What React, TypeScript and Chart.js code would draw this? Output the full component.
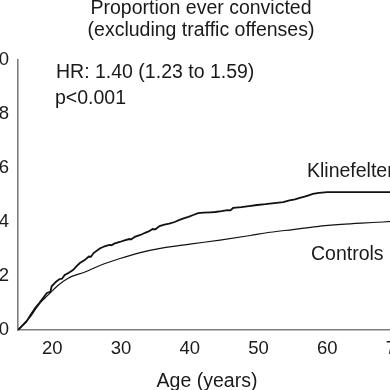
import React, { useEffect, useRef } from "react";
import { Chart, registerables } from "chart.js";

Chart.register(...registerables);

const titleLines = ["Proportion ever convicted", "(excluding traffic offenses)"];
const xTitle = "Age (years)";
const hrText = "HR: 1.40 (1.23 to 1.59)";
const pText = "p<0.001";
const seriesNames = ["Klinefelter", "Controls"];

const xTicks = [20, 30, 40, 50, 60, 70];
const yTicks = [0, 0.2, 0.4, 0.6, 0.8, 1.0];

const klineAges = [
  15.0, 15.6, 16.2, 16.8, 17.5, 18.1, 18.7, 19.2, 19.7, 19.9, 20.2, 20.5, 21.0, 21.4, 21.8, 22.4, 23.0,
  23.5, 24.0, 24.7, 25.3, 25.6, 26.0, 26.9, 27.6, 28.3, 28.6, 29.0, 29.8, 30.5, 31.2, 31.5, 32.0, 32.8, 33.5, 34.0,
  34.6, 35.0, 35.6, 36.3, 37.0, 37.8, 38.5, 39.2, 39.8, 40.5, 41.2, 42.0, 43.0, 43.7, 44.6, 45.5, 45.9, 46.3,
  47.5, 48.6, 49.8, 51.0, 52.3, 53.6, 54.5, 55.3, 56.0, 56.7, 57.3, 57.9, 58.8, 60.0, 70.0,
];
const klineVals = [
  0.0, 0.015, 0.03, 0.055, 0.081, 0.1, 0.12, 0.137, 0.141, 0.162, 0.17, 0.178, 0.188, 0.19, 0.204, 0.212, 0.222,
  0.236, 0.248, 0.259, 0.272, 0.271, 0.285, 0.302, 0.31, 0.315, 0.314, 0.32, 0.326, 0.332, 0.337, 0.336, 0.345, 0.352, 0.36, 0.365,
  0.374, 0.373, 0.385, 0.39, 0.394, 0.4, 0.408, 0.414, 0.419, 0.426, 0.433, 0.435, 0.436, 0.437, 0.44, 0.444, 0.443, 0.452,
  0.455, 0.459, 0.463, 0.466, 0.47, 0.474, 0.48, 0.484, 0.489, 0.494, 0.499, 0.504, 0.508, 0.511, 0.511,
];

const controlAges = [15, 15.8, 16.75, 17.5, 18.2, 19.4, 20.8, 22.3, 24.75, 27.0, 29.85, 32.5, 35.7, 40.0, 44.4, 48.8, 51.7, 55.0, 58.5, 62.0, 65.0, 68.1, 70.0];
const controlVals = [0, 0.022, 0.048, 0.075, 0.1, 0.13, 0.165, 0.192, 0.215, 0.24, 0.265, 0.285, 0.302, 0.318, 0.333, 0.35, 0.362, 0.372, 0.383, 0.391, 0.396, 0.4, 0.403];

const FONT = '"Liberation Sans", Arial, sans-serif';

export default function App() {
  const ref = useRef<HTMLCanvasElement | null>(null);

  useEffect(() => {
    const canvas = ref.current;
    if (!canvas) return;

    const textPlugin = {
      id: "texts",
      afterDraw(chart: any) {
        const ctx = chart.ctx as CanvasRenderingContext2D;
        ctx.save();
        ctx.fillStyle = "#1a1a1a";
        ctx.font = `19.5px ${FONT}`;
        ctx.textBaseline = "alphabetic";
        ctx.textAlign = "center";
        ctx.fillText(titleLines[0], 241, 44);
        ctx.fillText(titleLines[1], 241, 66);
        const ca = chart.chartArea;
        ctx.fillText(xTitle, (ca.left + ca.right) / 2, 417);
        ctx.textAlign = "left";
        ctx.fillText(hrText, 96, 108);
        ctx.fillText(pText, 95, 134);
        ctx.fillText(seriesNames[0], 347, 207);
        ctx.fillText(seriesNames[1], 351, 290);
        ctx.restore();
      },
    };

    const chart = new Chart(canvas, {
      type: "line",
      data: {
        datasets: [
          {
            label: seriesNames[0],
            data: klineAges.map((a, i) => ({ x: a, y: klineVals[i] })),
            borderColor: "#111111",
            borderWidth: 1.8,
            pointRadius: 0,
            tension: 0,
            fill: false,
          },
          {
            label: seriesNames[1],
            data: controlAges.map((a, i) => ({ x: a, y: controlVals[i] })),
            borderColor: "#111111",
            borderWidth: 1.2,
            pointRadius: 0,
            cubicInterpolationMode: "monotone",
            fill: false,
          },
        ],
      },
      options: {
        animation: false,
        responsive: false,
        maintainAspectRatio: false,
        layout: { padding: { top: 90, right: 34, left: 0, bottom: 0 } },
        plugins: {
          legend: { display: false },
          tooltip: { enabled: false },
          title: { display: false },
        },
        scales: {
          x: {
            type: "linear",
            min: 15,
            max: 70,
            grid: { display: false, drawTicks: false },
            border: { display: true, color: "#7d7d7d", width: 1.6 },
            ticks: {
              padding: 8,
              color: "#1a1a1a",
              font: { family: FONT, size: 18.5 },
              maxRotation: 0,
              autoSkip: false,
            },
            afterBuildTicks: (s: any) => {
              s.ticks = xTicks.map((v) => ({ value: v }));
            },
            afterFit: (s: any) => {
              s.height = 60;
            },
          },
          y: {
            type: "linear",
            min: 0,
            max: 1.0,
            grid: { display: false, drawTicks: false },
            border: { display: true, color: "#7d7d7d", width: 1.6 },
            ticks: {
              padding: 9,
              color: "#1a1a1a",
              font: { family: FONT, size: 18.5 },
              callback: (v: any) => Number(v).toFixed(1),
            },
            afterBuildTicks: (s: any) => {
              s.ticks = yTicks.map((v) => ({ value: v }));
            },
            afterFit: (s: any) => {
              s.width = 58;
            },
          },
        },
      },
      plugins: [textPlugin],
    });

    return () => chart.destroy();
  }, []);

  return (
    <div
      style={{
        position: "fixed",
        left: 0,
        top: 0,
        width: 390,
        height: 390,
        overflow: "hidden",
        background: "#ffffff",
      }}
    >
      <canvas
        ref={ref}
        width={470}
        height={420}
        style={{ position: "absolute", left: -40, top: -30, width: 470, height: 420 }}
      />
    </div>
  );
}
